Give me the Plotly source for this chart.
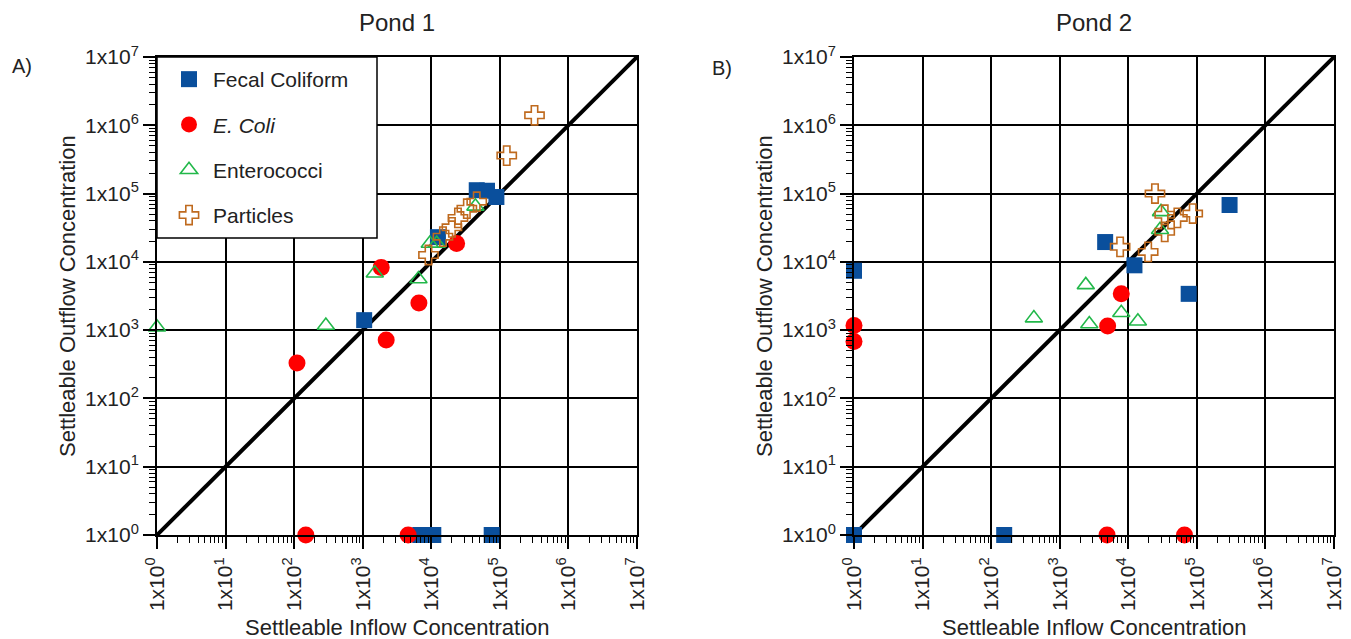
import plotly.graph_objects as go

# ---- data -------------------------------------------------------------
decade_exponents = [0, 1, 2, 3, 4, 5, 6, 7]
tick_values = [10 ** e for e in decade_exponents]
tick_labels = ["1x10<sup>%d</sup>" % e for e in decade_exponents]

one_to_one = [1, 1e7]

# Pond 1 (inflow, outflow)
p1_fecal_in = [1.05e3, 1.25e4, 4.6e4, 6.5e4, 8.9e4, 6.9e3, 1.07e4, 7.6e4]
p1_fecal_out = [1.4e3, 2.3e4, 1.12e5, 1.1e5, 8.9e4, 1, 1, 1]
p1_ecoli_in = [110, 2.2e3, 6.6e3, 1.86e3, 2.34e4, 148, 4.6e3]
p1_ecoli_out = [330, 720, 2.5e3, 8.3e3, 1.86e4, 1, 1]
p1_entero_in = [1, 290, 1.5e3, 6.5e3, 9.5e3, 1.2e4, 4.4e4]
p1_entero_out = [1.1e3, 1.17e3, 6.8e3, 5.6e3, 1.86e4, 1.86e4, 6.5e4]
p1_part_in = [3.2e5, 1.26e5, 4.6e4, 3.3e4, 2.45e4, 2.0e4, 1.48e4, 9.1e3]
p1_part_out = [1.4e6, 3.6e5, 7.6e4, 6.0e4, 4.4e4, 3.2e4, 2.34e4, 1.26e4]

# Pond 2 (inflow, outflow)
p2_fecal_in = [1, 1, 155, 4.6e3, 1.23e4, 7.6e4, 3.0e5]
p2_fecal_out = [7.4e3, 1, 1, 1.95e4, 8.9e3, 3.4e3, 6.8e4]
p2_ecoli_in = [1, 1, 7.9e3, 5.0e3, 4.9e3, 6.6e4]
p2_ecoli_out = [1.17e3, 680, 3.4e3, 1.15e3, 1, 1]
p2_entero_in = [420, 2.4e3, 2.7e3, 7.9e3, 1.38e4, 3.0e4, 2.9e4]
p2_entero_out = [1.5e3, 4.6e3, 1.23e3, 1.8e3, 1.35e3, 5.4e4, 2.95e4]
p2_part_in = [2.45e4, 7.6e3, 1.95e4, 3.4e4, 5.2e4, 8.7e4, 3.4e4]
p2_part_out = [1.0e5, 1.66e4, 1.4e4, 4.9e4, 4.4e4, 5.1e4, 2.75e4]

# ---- styling ------------------------------------------------------------
FONT = "Liberation Sans, Arial, sans-serif"
W, H = 1351, 639

series_style = {
    "Fecal Coliform": dict(symbol="square", size=16, color="#0A4F9C",
                           line=dict(width=0)),
    "<i>E. Coli</i>": dict(symbol="circle", size=17, color="#FF0000",
                           line=dict(width=0)),
    "Enterococci": dict(symbol="triangle-up-open", size=15, color="#22B84A",
                        line=dict(width=1.6, color="#22B84A")),
    "Particles": dict(symbol="cross-open", size=16, color="#BF6A1E",
                      line=dict(width=1.6, color="#BF6A1E")),
}

pond1 = [
    ("Fecal Coliform", p1_fecal_in, p1_fecal_out),
    ("<i>E. Coli</i>", p1_ecoli_in, p1_ecoli_out),
    ("Enterococci", p1_entero_in, p1_entero_out),
    ("Particles", p1_part_in, p1_part_out),
]
pond2 = [
    ("Fecal Coliform", p2_fecal_in, p2_fecal_out),
    ("<i>E. Coli</i>", p2_ecoli_in, p2_ecoli_out),
    ("Enterococci", p2_entero_in, p2_entero_out),
    ("Particles", p2_part_in, p2_part_out),
]

fig = go.Figure()

# 1:1 reference lines
for xa, ya in (("x", "y"), ("x2", "y2")):
    fig.add_trace(go.Scatter(x=one_to_one, y=one_to_one, mode="lines",
                             line=dict(color="black", width=4),
                             xaxis=xa, yaxis=ya, showlegend=False,
                             hoverinfo="skip"))

for i, (name, xs, ys) in enumerate(pond1):
    fig.add_trace(go.Scatter(x=xs, y=ys, mode="markers", name=name,
                             marker=series_style[name], cliponaxis=False,
                             legendgroup="g%d" % i, xaxis="x", yaxis="y"))
for i, (name, xs, ys) in enumerate(pond2):
    fig.add_trace(go.Scatter(x=xs, y=ys, mode="markers", name=name,
                             marker=series_style[name], cliponaxis=False,
                             legendgroup="g%d" % i, showlegend=False,
                             xaxis="x2", yaxis="y2"))

# plot-area pixel boxes
P1 = dict(x0=157, x1=637, y0=57, y1=535)
P2 = dict(x0=854, x1=1334, y0=57, y1=535)

def px_x(v):
    return v / W

def px_y(v):
    return 1 - v / H

minor_vals = [k * 10 ** n for n in range(7) for k in range(2, 10)]

def axis_common(rotate):
    return dict(
        type="log", range=[0, 7], tickmode="array",
        tickvals=tick_values, ticktext=tick_labels,
        tickangle=-90 if rotate else 0,
        ticks="outside", ticklen=12, tickwidth=1.5, tickcolor="black",
        showline=True, linecolor="black", linewidth=2, mirror=True,
        showgrid=True, gridcolor="black", gridwidth=1.5,
        zeroline=False,
        tickfont=dict(family=FONT, size=21, color="#222"),
        minor=dict(tickmode="array", tickvals=minor_vals, ticks="outside",
                   ticklen=6, tickwidth=1.2, tickcolor="black",
                   showgrid=False),
        fixedrange=True,
    )

layout_axes = {}
for suffix, box in (("", P1), ("2", P2)):
    xa = axis_common(True)
    xa["domain"] = [px_x(box["x0"]), px_x(box["x1"])]
    xa["anchor"] = "y" + suffix
    ya = axis_common(False)
    ya["domain"] = [px_y(box["y1"]), px_y(box["y0"])]
    ya["anchor"] = "x" + suffix
    layout_axes["xaxis" + suffix] = xa
    layout_axes["yaxis" + suffix] = ya

fig.update_layout(**layout_axes)

annotations = []
for box, title, letter, letter_xy in (
    (P1, "Pond 1", "A)", (22, 66)),
    (P2, "Pond 2", "B)", (722, 68)),
):
    cx = (box["x0"] + box["x1"]) / 2
    cy = (box["y0"] + box["y1"]) / 2
    annotations.append(dict(text=title, x=px_x(cx), y=px_y(22), xref="paper",
                            yref="paper", showarrow=False, xanchor="center",
                            yanchor="middle",
                            font=dict(family=FONT, size=24, color="#222")))
    annotations.append(dict(text=letter, x=px_x(letter_xy[0]),
                            y=px_y(letter_xy[1]), xref="paper", yref="paper",
                            showarrow=False, xanchor="center",
                            yanchor="middle",
                            font=dict(family=FONT, size=20, color="#222")))
    annotations.append(dict(text="Settleable Inflow Concentration",
                            x=px_x(cx), y=px_y(627), xref="paper",
                            yref="paper", showarrow=False, xanchor="center",
                            yanchor="middle",
                            font=dict(family=FONT, size=22, color="#222")))
    annotations.append(dict(text="Settleable Outflow Concentration",
                            x=px_x(box["x0"] - 90), y=px_y(cy),
                            xref="paper", yref="paper", showarrow=False,
                            xanchor="center", yanchor="middle", textangle=-90,
                            font=dict(family=FONT, size=22, color="#222")))

# legend frame sitting in the upper-left corner of the first panel
shapes = [dict(type="rect", xref="paper", yref="paper",
               x0=px_x(157), x1=px_x(377), y0=px_y(238), y1=px_y(57),
               fillcolor="white", line=dict(color="black", width=1.5),
               layer="above")]

fig.update_layout(
    width=W, height=H,
    margin=dict(l=0, r=0, t=0, b=0, autoexpand=False),
    paper_bgcolor="white", plot_bgcolor="white",
    annotations=annotations, shapes=shapes,
    showlegend=True,
    legend=dict(x=px_x(165), y=px_y(59), xanchor="left", yanchor="top",
                bgcolor="rgba(0,0,0,0)", borderwidth=0,
                traceorder="grouped", tracegroupgap=15, itemwidth=38,
                font=dict(family=FONT, size=21, color="#222")),
)

fig.write_html("out.html")
